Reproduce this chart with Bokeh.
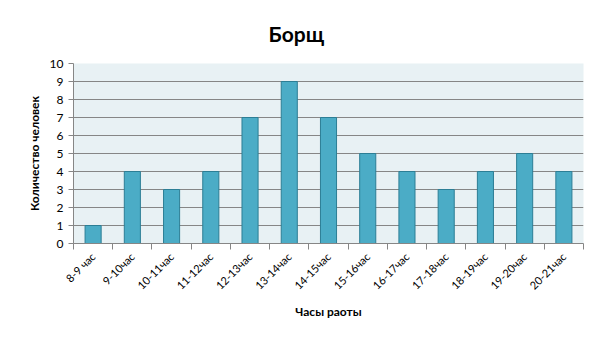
from bokeh.plotting import figure
from bokeh.models import FixedTicker, Range1d, ColumnDataSource
from bokeh.embed import file_html
from bokeh.resources import INLINE
import math

categories = ["8-9 час", "9-10час", "10-11час", "11-12час", "12-13час", "13-14час",
              "14-15час", "15-16час", "16-17час", "17-18час", "18-19час", "19-20час", "20-21час"]
values = [1, 4, 3, 4, 7, 9, 7, 5, 4, 3, 4, 5, 4]
y_ticks = list(range(0, 11))

FONT = "Lato"
n = len(categories)
xs = [i + 0.5 for i in range(n)]
src = ColumnDataSource(dict(x=xs, top=values))

p = figure(width=595, height=340, output_backend="svg", toolbar_location=None,
           x_range=Range1d(0, n), y_range=Range1d(0, 10),
           min_border_left=73, min_border_right=12, min_border_top=63, min_border_bottom=97)

p.title.text = "Борщ"
p.title.align = "left"
p.title.text_font = FONT
p.title.text_font_size = "21px"
p.title.text_font_style = "bold"
p.title.text_color = "#000000"
p.title.offset = 195
p.title.standoff = 35

p.background_fill_color = "#E8F1F4"
p.border_fill_color = "white"
p.outline_line_color = None

p.vbar(x="x", top="top", width=0.41, bottom=0, source=src,
       fill_color="#4BACC6", line_color="#2C7E95", line_width=1)

# Y axis
p.yaxis.ticker = FixedTicker(ticks=y_ticks)
p.yaxis.axis_label = "Количество человек"
p.yaxis.axis_label_text_font = FONT
p.yaxis.axis_label_text_font_size = "12px"
p.yaxis.axis_label_text_font_style = "bold"
p.yaxis.axis_label_text_color = "#000000"
p.yaxis.major_label_text_font = FONT
p.yaxis.major_label_text_font_size = "12px"
p.yaxis.major_label_text_color = "#000000"
p.yaxis.axis_line_color = "#868686"
p.yaxis.major_tick_line_color = "#868686"
p.yaxis.major_tick_out = 5
p.yaxis.major_tick_in = 0
p.yaxis.minor_tick_line_color = None

# X axis
p.xaxis.ticker = FixedTicker(ticks=xs, minor_ticks=list(range(n + 1)))
p.xaxis.major_label_overrides = {x: c for x, c in zip(xs, categories)}
p.xaxis.major_label_orientation = math.pi / 4
p.xaxis.major_label_text_font = FONT
p.xaxis.major_label_text_font_size = "11px"
p.xaxis.major_label_text_color = "#000000"
p.xaxis.major_tick_line_color = None
p.xaxis.minor_tick_line_color = "#868686"
p.xaxis.minor_tick_out = 6
p.xaxis.minor_tick_in = 0
p.xaxis.axis_line_color = "#868686"
p.xaxis.axis_label = "Часы раоты"
p.xaxis.axis_label_text_font = FONT
p.xaxis.axis_label_text_font_size = "12px"
p.xaxis.axis_label_text_font_style = "bold"
p.xaxis.axis_label_text_color = "#000000"

p.xgrid.grid_line_color = None
p.ygrid.grid_line_color = "#868686"
p.ygrid.grid_line_width = 1

open("out.html", "w").write(file_html(p, INLINE))
